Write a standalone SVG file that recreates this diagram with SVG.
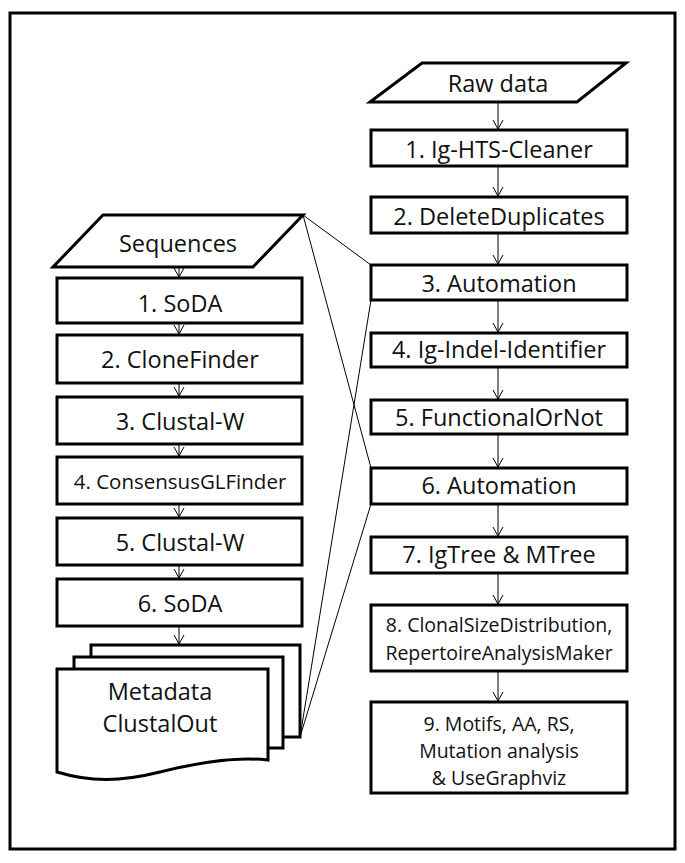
<svg xmlns="http://www.w3.org/2000/svg" width="685" height="863" viewBox="0 0 685 863">
<style>
.box{fill:#fff;stroke:#000;stroke-width:3}
.shape{fill:#fff;stroke:#000;stroke-width:3;stroke-linejoin:miter}
.t{font-family:"Open Sans","Noto Sans",sans-serif;font-size:23.5px;fill:#111;text-anchor:middle}
.s{font-size:20.5px}
.s8{font-size:19.5px}
.s9{font-size:19.5px}
.c{stroke:#000;stroke-width:1;fill:none}
</style>
<defs>
<marker id="arr" viewBox="-1 -6 11 12" refX="9" refY="0" markerWidth="11" markerHeight="12" markerUnits="userSpaceOnUse" orient="auto">
<path d="M0,-5 L9,0 L0,5" fill="none" stroke="#000" stroke-width="1"/>
</marker>
</defs>
<rect x="0" y="0" width="685" height="863" fill="#fff"/>
<rect id="frame" x="10" y="13" width="665" height="836" fill="none" stroke="#000" stroke-width="3"/>

<g id="raw-data"><polygon class="shape" points="422,63 626,63 577,102 370,102"/><text class="t" x="498" y="92">Raw data</text></g>
<g id="r1"><rect class="box" x="371" y="130" width="256" height="36"/><text class="t" x="499" y="158">1. Ig-HTS-Cleaner</text></g>
<g id="r2"><rect class="box" x="371" y="197" width="256" height="36"/><text class="t" x="499" y="225">2. DeleteDuplicates</text></g>
<g id="r3"><rect class="box" x="371" y="265" width="256" height="35"/><text class="t" x="499" y="292">3. Automation</text></g>
<g id="r4"><rect class="box" x="371" y="333" width="256" height="34"/><text class="t" x="499" y="358">4. Ig-Indel-Identifier</text></g>
<g id="r5"><rect class="box" x="371" y="400" width="256" height="34"/><text class="t" x="499" y="426">5. FunctionalOrNot</text></g>
<g id="r6"><rect class="box" x="371" y="468" width="256" height="36"/><text class="t" x="499" y="494">6. Automation</text></g>
<g id="r7"><rect class="box" x="371" y="537" width="256" height="36"/><text class="t" x="499" y="563">7. IgTree &amp; MTree</text></g>
<g id="r8"><rect class="box" x="371" y="605" width="256" height="66"/><text class="t s8" x="499" y="632">8. ClonalSizeDistribution,</text><text class="t s8" x="499" y="660">RepertoireAnalysisMaker</text></g>
<g id="r9"><rect class="box" x="371" y="702" width="256" height="91"/><text class="t s9" x="499" y="731">9. Motifs, AA, RS,</text><text class="t s9" x="499" y="758">Mutation analysis</text><text class="t s9" x="499" y="785">&amp; UseGraphviz</text></g>

<g id="sequences"><polygon class="shape" points="103,215 303,215 253,267 53,267"/><text class="t" x="178" y="252">Sequences</text></g>
<g id="l1"><rect class="box" x="57" y="278" width="245" height="45"/><text class="t" x="180" y="312">1. SoDA</text></g>
<g id="l2"><rect class="box" x="57" y="335" width="245" height="48"/><text class="t" x="180" y="368">2. CloneFinder</text></g>
<g id="l3"><rect class="box" x="57" y="397" width="245" height="47"/><text class="t" x="180" y="430">3. Clustal-W</text></g>
<g id="l4"><rect class="box" x="57" y="457" width="245" height="47"/><text class="t s" x="180" y="489">4. ConsensusGLFinder</text></g>
<g id="l5"><rect class="box" x="57" y="518" width="245" height="47"/><text class="t" x="180" y="551">5. Clustal-W</text></g>
<g id="l6"><rect class="box" x="57" y="579" width="245" height="47"/><text class="t" x="180" y="612">6. SoDA</text></g>
<g id="metadata">
<rect class="shape" x="91" y="645" width="209" height="92"/>
<rect class="shape" x="74" y="657" width="209" height="91"/>
<path class="shape" d="M57,669 H268 V760 C240,757 200,762 160,772 C120,782 90,782 57,772 Z"/>
<text class="t" x="160" y="700">Metadata</text>
<text class="t" x="160" y="732">ClustalOut</text>
</g>

<g id="connectors">
<line class="c" x1="498" y1="102" x2="498" y2="129" marker-end="url(#arr)"/>
<line class="c" x1="498" y1="166" x2="498" y2="196" marker-end="url(#arr)"/>
<line class="c" x1="498" y1="233" x2="498" y2="264" marker-end="url(#arr)"/>
<line class="c" x1="498" y1="300" x2="498" y2="332" marker-end="url(#arr)"/>
<line class="c" x1="498" y1="367" x2="498" y2="399" marker-end="url(#arr)"/>
<line class="c" x1="498" y1="434" x2="498" y2="467" marker-end="url(#arr)"/>
<line class="c" x1="498" y1="504" x2="498" y2="536" marker-end="url(#arr)"/>
<line class="c" x1="498" y1="573" x2="498" y2="604" marker-end="url(#arr)"/>
<line class="c" x1="498" y1="671" x2="498" y2="701" marker-end="url(#arr)"/>
<line class="c" x1="179" y1="267" x2="179" y2="277" marker-end="url(#arr)"/>
<line class="c" x1="179" y1="323" x2="179" y2="334" marker-end="url(#arr)"/>
<line class="c" x1="179" y1="383" x2="179" y2="396" marker-end="url(#arr)"/>
<line class="c" x1="179" y1="444" x2="179" y2="456" marker-end="url(#arr)"/>
<line class="c" x1="179" y1="504" x2="179" y2="517" marker-end="url(#arr)"/>
<line class="c" x1="179" y1="565" x2="179" y2="578" marker-end="url(#arr)"/>
<line class="c" x1="179" y1="626" x2="179" y2="644" marker-end="url(#arr)"/>
<line class="c" x1="303" y1="215" x2="371" y2="265"/>
<line class="c" x1="303" y1="215" x2="371" y2="468"/>
<line class="c" x1="300" y1="737" x2="371" y2="300"/>
<line class="c" x1="300" y1="737" x2="371" y2="504"/>
</g>
</svg>
